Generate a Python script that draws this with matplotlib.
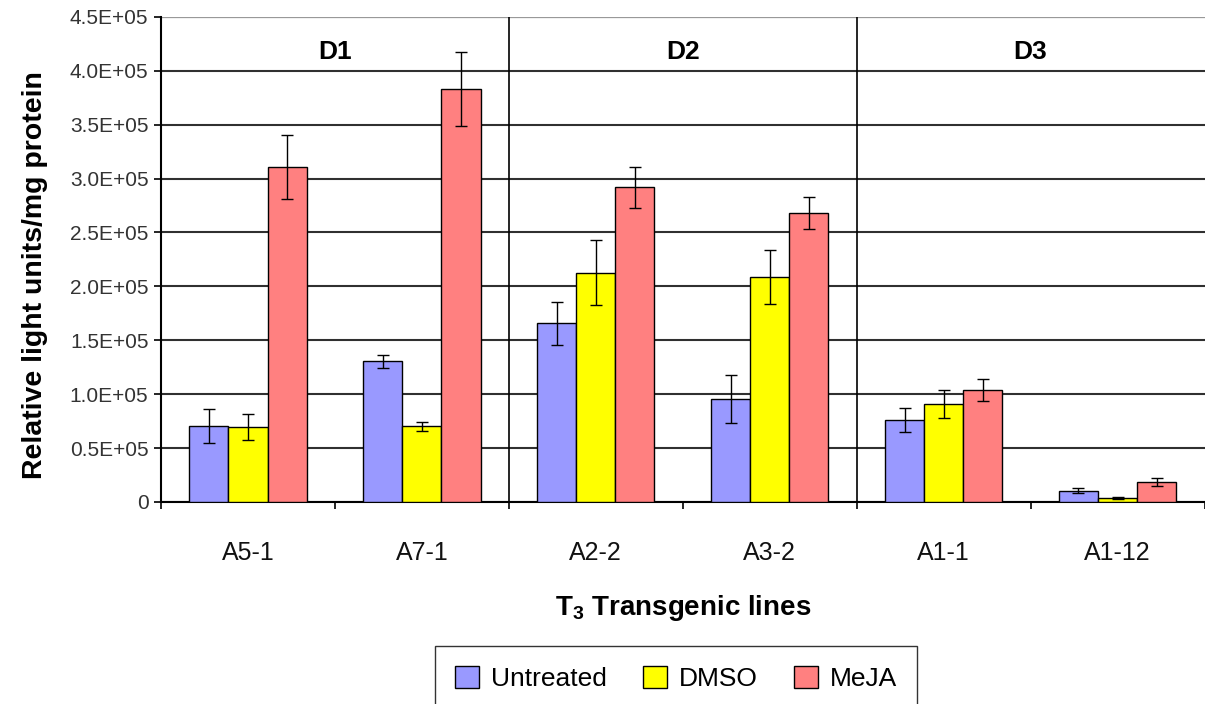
import numpy as np
import matplotlib
matplotlib.use("Agg")
import matplotlib.pyplot as plt

plt.rcParams["font.family"] = ["Liberation Sans", "DejaVu Sans"]
plt.rcParams["mathtext.fontset"] = "custom"
plt.rcParams["mathtext.rm"] = "Liberation Sans"
plt.rcParams["mathtext.bf"] = "Liberation Sans:bold"

# data
lines = ["A5-1", "A7-1", "A2-2", "A3-2", "A1-1", "A1-12"]
series = ["Untreated", "DMSO", "MeJA"]
untreated = [70500, 130500, 165800, 95700, 76000, 10500]
dmso = [69300, 70200, 212800, 208500, 90800, 3400]
meja = [310900, 383000, 292000, 268000, 103800, 18500]
untreated_err = [16000, 6000, 20000, 22000, 11500, 2300]
dmso_err = [12000, 4200, 30000, 25000, 13000, 1000]
meja_err = [29500, 34000, 19000, 14500, 10500, 3700]
groups = ["D1", "D2", "D3"]
colors = ["#9999FF", "#FFFF00", "#FF8080"]
yticks = [0, 50000, 100000, 150000, 200000, 250000, 300000, 350000, 400000, 450000]
ytick_labels = ["0", "0.5E+05", "1.0E+05", "1.5E+05", "2.0E+05", "2.5E+05",
                "3.0E+05", "3.5E+05", "4.0E+05", "4.5E+05"]

fig = plt.figure(figsize=(12.05, 7.04), dpi=100)
ax = fig.add_axes([0.1336, 0.287, 0.866, 0.689])

x = np.arange(len(lines))
w = 0.225
values = [untreated, dmso, meja]
errs = [untreated_err, dmso_err, meja_err]
for i, (name, vals, err, c) in enumerate(zip(series, values, errs, colors)):
    ax.bar(x + (i - 1) * w, vals, w, color=c, edgecolor="black", linewidth=1.0,
           label=name, zorder=3)
    ax.errorbar(x + (i - 1) * w, vals, yerr=err, fmt="none", ecolor="black",
                elinewidth=1.0, capsize=4, capthick=1.0, zorder=4)

ax.set_xlim(-0.5, len(lines) - 0.5)
ax.set_ylim(0, 450000)
ax.set_yticks(yticks)
ax.set_yticklabels(ytick_labels, fontsize=15, color="#333333")
ax.set_xticks(x)
ax.set_xticklabels(lines, fontsize=18, color="#111111")
ax.set_xticks(np.arange(-0.5, len(lines), 1.0), minor=True)
ax.tick_params(axis="x", which="major", length=0, pad=28)
ax.tick_params(axis="x", which="minor", length=5, width=1.2, direction="out")
ax.tick_params(axis="y", length=5, width=1.2, direction="out", pad=4)

ax.yaxis.grid(True, color="#303030", linewidth=1.5, zorder=0)
ax.set_axisbelow(True)
for s in ["top", "right"]:
    ax.spines[s].set_visible(False)
ax.spines["left"].set_linewidth(1.5)
ax.spines["bottom"].set_linewidth(1.5)
ax.axhline(450000, color="#999999", linewidth=1.5, zorder=1)

# dividers between the D groups
for xv in [1.5, 3.5]:
    ax.axvline(xv, color="black", linewidth=1.2, zorder=2)
for gx, g in zip([0.5, 2.5, 4.5], groups):
    ax.text(gx, 417000, g, ha="center", va="center", fontsize=19, fontweight="bold")

ax.set_ylabel("Relative light units/mg protein", fontsize=20.5, fontweight="bold")
ax.yaxis.set_label_coords(-0.108, 0.468)
ax.set_xlabel(r"$\mathbf{T_3}$ Transgenic lines", fontsize=20, fontweight="bold", labelpad=20)

leg = fig.legend(loc="upper center", bbox_to_anchor=(0.561, 0.0824), ncol=3,
                 fontsize=19, frameon=True, fancybox=False, edgecolor="black",
                 handlelength=0.9, handleheight=0.9, columnspacing=1.38,
                 borderpad=0.75, handletextpad=0.45, borderaxespad=0)
leg.get_frame().set_linewidth(1.0)

fig.savefig("out.png", dpi=100)
